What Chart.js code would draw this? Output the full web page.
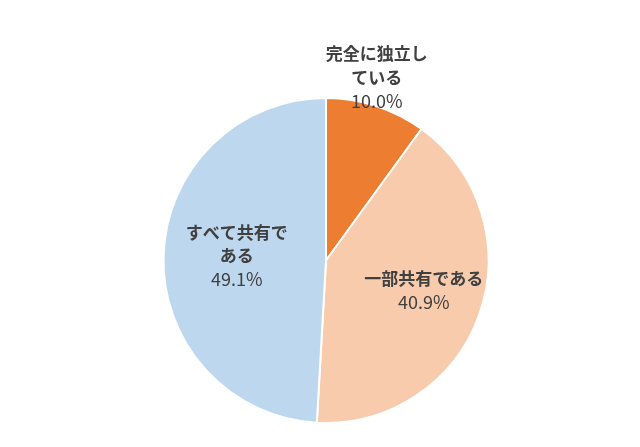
<!DOCTYPE html>
<html>
<head>
<meta charset="utf-8">
<script src="https://cdn.jsdelivr.net/npm/chart.js@4"></script>
<style>
  html, body { margin: 0; padding: 0; background: #fff; }
  #wrap { width: 640px; height: 447px; }
</style>
</head>
<body>
<div id="wrap"><canvas id="pie" width="640" height="447"></canvas></div>
<script>
// data
const categories = ['完全に独立し\nている', '一部共有である', 'すべて共有で\nある'];
const shares = [10.0, 40.9, 49.1];
const sliceColors = ['#ED7D31', '#F8CBAD', '#BDD7EE'];

// where each label sits, as a fraction of the radius out from the centre
const labelRadius = [1.17, 0.63, 0.55];
const labelAngleShift = [-2.5, -2.5, 1.5]; // degrees

const sliceLabels = {
  id: 'sliceLabels',
  afterDatasetsDraw(chart) {
    const ctx = chart.ctx;
    const meta = chart.getDatasetMeta(0);
    ctx.save();
    ctx.textAlign = 'center';
    ctx.textBaseline = 'middle';
    ctx.fillStyle = '#404040';
    meta.data.forEach((arc, i) => {
      const mid = (arc.startAngle + arc.endAngle) / 2 + labelAngleShift[i] * Math.PI / 180;
      const r = arc.outerRadius * labelRadius[i];
      const x = arc.x + Math.cos(mid) * r;
      const y = arc.y + Math.sin(mid) * r;
      const lines = categories[i].split('\n');
      const all = lines.concat([shares[i].toFixed(1) + '%']);
      const lh = 23.5;
      const top = y - (all.length - 1) * lh / 2;
      all.forEach((t, k) => {
        const isPct = k === all.length - 1;
        ctx.font = isPct ? 'normal 18px "Noto Sans CJK JP", sans-serif'
                         : 'bold 17px "Noto Sans CJK JP", sans-serif';
        ctx.fillText(t, x, top + k * lh);
      });
    });
    ctx.restore();
  }
};

new Chart(document.getElementById('pie'), {
  type: 'pie',
  data: {
    labels: categories,
    datasets: [{
      data: shares,
      backgroundColor: sliceColors,
      borderColor: '#ffffff',
      borderWidth: 2
    }]
  },
  options: {
    responsive: false,
    animation: false,
    layout: { padding: { top: 97, bottom: 23, left: 12, right: 0 } },
    plugins: {
      legend: { display: false },
      tooltip: { enabled: false }
    }
  },
  plugins: [sliceLabels]
});
</script>
</body>
</html>
